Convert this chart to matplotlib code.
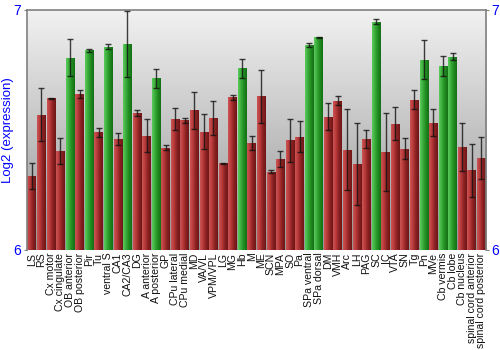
import matplotlib
matplotlib.use("Agg")
import matplotlib.pyplot as plt
import numpy as np
from matplotlib.colors import LinearSegmentedColormap

regions = [
    "LS", "RS", "Cx motor", "Cx cingulate", "OB anterior", "OB posterior", "Pir", "Tu",
    "ventral S", "CA1", "CA2/CA3", "DG", "A anterior", "A posterior", "GP", "CPu lateral",
    "CPu medial", "MD", "VA/VL", "VPM/VPL", "LG", "MG", "Hb", "M", "ME", "SCN", "MPA",
    "SO", "Pa", "SPa ventral", "SPa dorsal", "DM", "VMH", "Arc", "LH", "PAG", "SC", "IC",
    "VTA", "SN", "Tg", "Pn", "MVe", "Cb vermis", "Cb lobe", "Cb nucleus",
    "spinal cord anterior", "spinal cord posterior",
]
expression = [
    6.308, 6.563, 6.632, 6.411, 6.800, 6.649, 6.831, 6.489,
    6.846, 6.462, 6.858, 6.571, 6.475, 6.714, 6.425, 6.546,
    6.540, 6.581, 6.492, 6.550, 6.360, 6.636, 6.757, 6.444, 6.640, 6.325, 6.379,
    6.457, 6.471, 6.854, 6.886, 6.554, 6.621, 6.417, 6.358, 6.462, 6.951, 6.407,
    6.525, 6.422, 6.626, 6.792, 6.529, 6.767, 6.804, 6.429,
    6.331, 6.383,
]
error = [
    0.056, 0.111, 0.002, 0.054, 0.077, 0.018, 0.005, 0.018,
    0.010, 0.026, 0.137, 0.013, 0.069, 0.040, 0.011, 0.046,
    0.010, 0.077, 0.073, 0.070, 0.003, 0.011, 0.039, 0.030, 0.110, 0.006, 0.032,
    0.089, 0.065, 0.008, 0.002, 0.056, 0.018, 0.168, 0.169, 0.039, 0.010, 0.162,
    0.069, 0.045, 0.041, 0.081, 0.056, 0.041, 0.015, 0.099,
    0.109, 0.089,
]
highlight = {"OB anterior", "Pir", "ventral S", "CA2/CA3", "A posterior", "Hb",
             "SPa ventral", "SPa dorsal", "SC", "Pn", "Cb vermis", "Cb lobe"}

red_cmap = LinearSegmentedColormap.from_list("red", ["#cc5555", "#b83a3a", "#8a2222", "#6e1515"])
green_cmap = LinearSegmentedColormap.from_list("green", ["#5ccc5c", "#3aac3a", "#1f8a1f", "#156e15"])
bg_cmap = LinearSegmentedColormap.from_list("bg", ["#f2f2f2", "#959595"])

fig = plt.figure(figsize=(5, 3.5), dpi=100)
ax = fig.add_axes([0.054, 0.286, 0.918, 0.686])

x = np.arange(len(regions))
ax.set_xlim(-0.5, len(regions) - 0.5)
ax.set_ylim(6, 7)

# background: vertical gradient
ax.imshow(np.linspace(0, 1, 256).reshape(-1, 1), cmap=bg_cmap, aspect="auto",
          extent=[0, 1, 0, 1], transform=ax.transAxes, zorder=0)

grad = np.linspace(0, 1, 64).reshape(1, -1)
bars = ax.bar(x, np.array(expression) - 6, bottom=6, width=0.9,
              color="none", edgecolor="none", zorder=2)
for bar, name in zip(bars, regions):
    cmap = green_cmap if name in highlight else red_cmap
    x0 = bar.get_x()
    x1 = x0 + bar.get_width()
    im = ax.imshow(grad, cmap=cmap, aspect="auto", extent=[x0, x1, 6, 6 + bar.get_height()],
                   zorder=2, interpolation="bilinear")
    im.set_clip_path(bar)

ax.errorbar(x, expression, yerr=error, fmt="none", ecolor="#111111", elinewidth=1.0,
            capsize=2.2, capthick=1.0, alpha=0.8, zorder=3)

ax.set_xticks(x)
ax.set_xticklabels(regions, rotation=90, fontsize=7.6, family="Liberation Sans", color="#111111")
ax.tick_params(axis="x", length=0, pad=2)
ax.set_yticks([6, 7])
ax.set_yticklabels(["6", "7"], fontsize=10, family="Liberation Sans", color="#0000ff")
ax.tick_params(axis="y", length=2.5, color="#808080", right=True, labelright=True, pad=1.5)
ax.set_ylabel("Log2 (expression)", fontsize=9.5, family="Liberation Sans", color="#0000ff")
ax.yaxis.set_label_coords(-0.029, 0.5)

for side in ["left", "right", "top"]:
    ax.spines[side].set_color("#808080")
    ax.spines[side].set_linewidth(1.2)
ax.spines["bottom"].set_visible(False)

fig.savefig("out.png", dpi=100)
